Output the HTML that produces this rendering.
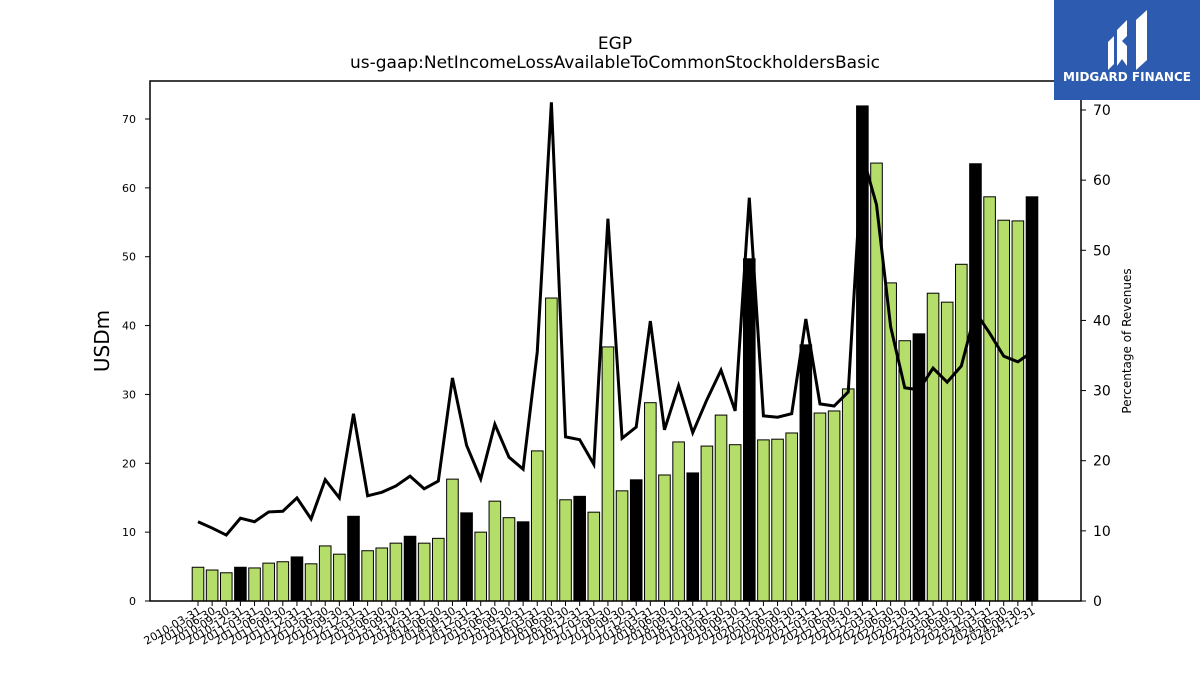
<!DOCTYPE html>
<html><head><meta charset="utf-8"><style>
body{margin:0;background:#fff;font-family:"Liberation Sans","DejaVu Sans",sans-serif;}
</style></head><body>
<svg id="chart" width="1200" height="675" xmlns="http://www.w3.org/2000/svg" font-family="DejaVu Sans, Liberation Sans, sans-serif">
<text x="615" y="49" font-size="17" text-anchor="middle">EGP</text>
<text x="615" y="68" font-size="17" text-anchor="middle">us-gaap:NetIncomeLossAvailableToCommonStockholdersBasic</text>
<text transform="translate(109,341) rotate(-90)" font-size="20" text-anchor="middle">USDm</text>
<text transform="translate(1131,341) rotate(-90)" font-size="12" text-anchor="middle">Percentage of Revenues</text>
<g id="bars"></g><g id="xt"></g><g id="yt"></g><g id="y2t"></g>
<path id="line" fill="none" stroke="#000" stroke-width="3"/>
<rect x="150" y="81" width="931" height="520" fill="none" stroke="#000" stroke-width="1.5"/>
<g>
<rect x="1054" y="0" width="146" height="100" fill="#2d5bb0"/>
<path d="M1108 42 l6 -6 v28 l-6 6z M1117 30 l10 -10 v16 l-5 5 l5 5 v20 l-5 -7 l-5 7z M1136 20 l11 -10 v50 l-11 10z" fill="#fff"/>
<text x="1127" y="81" font-size="12" font-weight="bold" fill="#fff" text-anchor="middle">MIDGARD FINANCE</text>
</g>
</svg>
<script>
const bars=[4.9,4.5,4.1,4.9,4.8,5.5,5.7,6.4,5.4,8.0,6.8,12.3,7.3,7.7,8.4,9.4,8.4,9.1,17.7,12.8,10.0,14.5,12.1,11.5,21.8,44.0,14.7,15.2,12.9,36.9,16.0,17.6,28.8,18.3,23.1,18.6,22.5,27.0,22.7,49.7,23.4,23.5,24.4,37.2,27.3,27.6,30.8,71.9,63.6,46.2,37.8,38.8,44.7,43.4,48.9,63.5,58.7,55.3,55.2,58.7];
const pct=[11.3,10.4,9.4,11.8,11.3,12.7,12.8,14.7,11.7,17.3,14.7,26.7,15.0,15.5,16.4,17.8,16.0,17.1,31.8,22.2,17.4,25.2,20.5,18.8,35.5,71.1,23.4,23.0,19.5,54.5,23.2,24.8,39.9,24.4,30.7,24.0,28.7,32.9,27.1,57.5,26.4,26.2,26.7,40.2,28.1,27.8,29.8,63.6,56.5,39.1,30.4,30.1,33.2,31.2,33.5,41.2,38.2,34.9,34.1,35.5];
const yTicks=[0,10,20,30,40,50,60,70];
const y2Ticks=[0,10,20,30,40,50,60,70];
const ends=['03-31','06-30','09-30','12-31'];
const cats=[];for(let y=2010;y<=2024;y++)for(const e of ends)cats.push(y+'-'+e);
const NS='http://www.w3.org/2000/svg';
const x=i=>198+i*(1032-198)/(cats.length-1);
const yL=v=>601-v*(601-119)/70;
const yR=v=>601-v*(601-110)/70;
function mk(t,a,p){const e=document.createElementNS(NS,t);for(const k in a)e.setAttribute(k,a[k]);p.appendChild(e);return e;}
const gb=document.getElementById('bars'),gx=document.getElementById('xt'),gy=document.getElementById('yt'),gy2=document.getElementById('y2t');
bars.forEach((v,i)=>{const r=mk('rect',{x:x(i)-5.8,y:yL(v),width:11.6,height:601-yL(v),fill:i%4==3?'#000':'#b5dd6a',stroke:'#000','stroke-width':1},gb);

});
cats.forEach((c,i)=>{const l=mk('line',{x1:x(i),x2:x(i),y1:601,y2:606,stroke:'#000'},gx);


const t=mk('text',{transform:`translate(${x(i)+4},613) rotate(-30)`,'font-size':11,'text-anchor':'end'},gx);t.textContent=c;

});
yTicks.forEach(v=>{mk('line',{x1:145,x2:150,y1:yL(v),y2:yL(v),stroke:'#000'},gy);
const t=mk('text',{x:136,y:yL(v)+4,'font-size':11,'text-anchor':'end'},gy);t.textContent=v;

});
y2Ticks.forEach(v=>{mk('line',{x1:1081,x2:1086,y1:yR(v),y2:yR(v),stroke:'#000'},gy2);
const t=mk('text',{x:1093,y:yR(v)+5,'font-size':14},gy2);t.textContent=v;

});
document.getElementById('line').setAttribute('d',pct.map((v,i)=>(i?'L':'M')+x(i)+' '+yR(v)).join(' '));
</script>
</body></html>
